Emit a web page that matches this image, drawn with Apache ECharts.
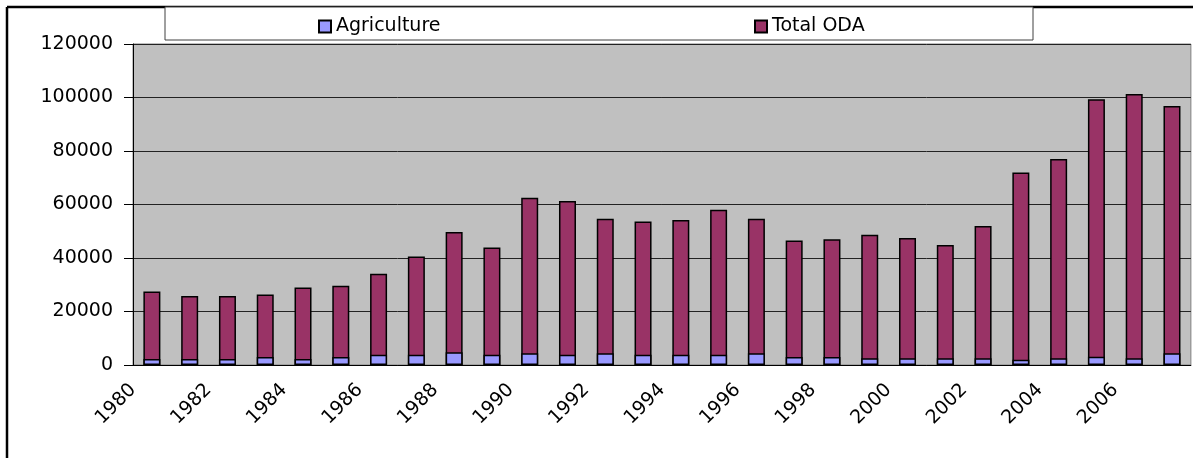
<!DOCTYPE html>
<html>
<head>
<meta charset="utf-8">
<script src="https://cdn.jsdelivr.net/npm/echarts@6/dist/echarts.min.js"></script>
<style>
  html, body { margin: 0; padding: 0; background: #fff; overflow: hidden; }
  #chart { width: 1193px; height: 458px; }
</style>
</head>
<body>
<div id="chart"></div>
<script>
const years = ['1980', '1981', '1982', '1983', '1984', '1985', '1986', '1987', '1988', '1989',
  '1990', '1991', '1992', '1993', '1994', '1995', '1996', '1997', '1998', '1999',
  '2000', '2001', '2002', '2003', '2004', '2005', '2006', '2007'];
const totalODA = [27500, 25800, 25800, 26400, 29000, 29600, 34100, 40600, 49700, 43900,
  62500, 61300, 54700, 53600, 54200, 58000, 54700, 46500, 47000, 48700,
  47500, 44900, 52000, 72000, 77000, 99300, 101300, 96800];
const agriculture = [2200, 2200, 2200, 3000, 2200, 3000, 3800, 3800, 4800, 3800,
  4400, 3800, 4400, 3800, 3800, 3800, 4400, 3000, 3000, 2500,
  2500, 2500, 2500, 2000, 2500, 3100, 2500, 4400];
const tickLabels = ['1980', '1982', '1984', '1986', '1988', '1990', '1992',
  '1994', '1996', '1998', '2000', '2002', '2004', '2006'];

// labels sit on the category boundaries (excel style), so a 2nd axis with one slot per boundary
const boundaryLabels = [];
for (let i = 0; i <= years.length; i++) {
  boundaryLabels.push(i % 2 === 0 && tickLabels[i / 2] ? tickLabels[i / 2] : '');
}

const font = 'DejaVu Sans';
const chart = echarts.init(document.getElementById('chart'));

chart.setOption({
  animation: false,
  textStyle: { fontFamily: font },
  graphic: [
    // outer frame: only top and left edges fall inside the picture
    { type: 'line', z: 0, shape: { x1: 7, y1: 7, x2: 1193, y2: 7 },
      style: { stroke: '#000', lineWidth: 2.5 } },
    { type: 'line', z: 0, shape: { x1: 7, y1: 7, x2: 7, y2: 458 },
      style: { stroke: '#000', lineWidth: 2.5 } },
    { type: 'rect', z: 1, shape: { x: 165, y: 7, width: 868, height: 33 },
      style: { fill: '#fff', stroke: '#404040', lineWidth: 1 } },
  ],
  legend: [
    { data: ['Agriculture'], left: 318, top: 17, padding: 0, itemWidth: 12, itemHeight: 12,
      itemGap: 8, icon: 'rect', z: 5,
      textStyle: { fontFamily: font, fontSize: 19, color: '#000' } },
    { data: ['Total ODA'], left: 754, top: 17, padding: 0, itemWidth: 12, itemHeight: 12,
      itemGap: 8, icon: 'rect', z: 5,
      textStyle: { fontFamily: font, fontSize: 19, color: '#000' } },
  ],
  grid: { left: 133, top: 44, right: -1, bottom: 93, show: true,
    backgroundColor: '#C0C0C0', borderColor: '#808080', borderWidth: 1 },
  xAxis: [
    { type: 'category', data: years, boundaryGap: true,
      axisLine: { lineStyle: { color: '#000', width: 1 } },
      axisTick: { interval: 0, length: 7, lineStyle: { color: '#000' } },
      axisLabel: { show: false } },
    { type: 'category', data: boundaryLabels, boundaryGap: false, position: 'bottom',
      axisLine: { show: false }, axisTick: { show: false }, splitLine: { show: false },
      axisLabel: { interval: 0, rotate: 45, margin: 22, color: '#000',
        fontFamily: font, fontSize: 19 } },
  ],
  yAxis: {
    type: 'value', min: 0, max: 120000, interval: 20000,
    axisLine: { show: true, lineStyle: { color: '#000' } },
    axisTick: { show: true, length: 9, lineStyle: { color: '#000' } },
    axisLabel: { margin: 20, color: '#000', fontFamily: font, fontSize: 19,
      formatter: v => String(v) },
    splitLine: { lineStyle: { color: '#222', width: 1 } },
  },
  series: [
    { name: 'Agriculture', type: 'bar', data: agriculture, barWidth: 17, barGap: '-100%', z: 4,
      itemStyle: { color: '#9999FF', borderColor: '#000', borderWidth: 1.5 } },
    { name: 'Total ODA', type: 'bar', data: totalODA, barWidth: 17, z: 3,
      itemStyle: { color: '#993366', borderColor: '#000', borderWidth: 1.5 } },
  ],
});
</script>
</body>
</html>
